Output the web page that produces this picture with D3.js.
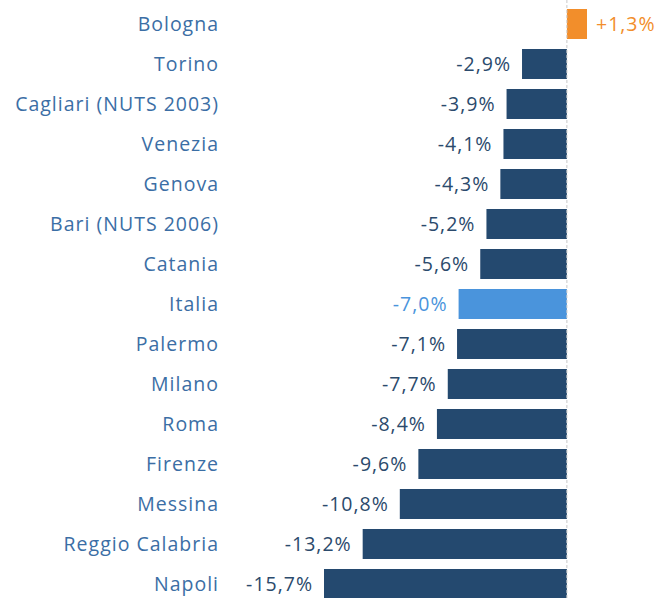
<!DOCTYPE html>
<html>
<head>
<meta charset="utf-8">
<script src="https://cdn.jsdelivr.net/npm/d3@7"></script>
<style>
  body { margin: 0; background: #fff; }
  svg text { font-family: "Open Sans", "Noto Sans", sans-serif; letter-spacing: 1px; }
</style>
</head>
<body>
<svg id="chart" width="659" height="598"></svg>
<script>
'use strict';

// data
const cities = ['Bologna', 'Torino', 'Cagliari (NUTS 2003)', 'Venezia', 'Genova', 'Bari (NUTS 2006)',
    'Catania', 'Italia', 'Palermo', 'Milano', 'Roma', 'Firenze', 'Messina', 'Reggio Calabria', 'Napoli'];
const changes = [1.3, -2.9, -3.9, -4.1, -4.3, -5.2, -5.6, -7.0, -7.1, -7.7, -8.4, -9.6, -10.8, -13.2, -15.7];

const rows = cities.map((c, i) => ({ city: c, value: changes[i] }));

const svg = d3.select('#chart');

// scales
const x = d3.scaleLinear().domain([-15.7, 1.3]).range([324, 587]);
const y = d3.scaleBand().domain(cities).range([4, 604]).paddingInner(0.25).paddingOuter(0.125);

function barColor(d) {
    if (d.value > 0) return '#f28e2b';
    if (d.city === 'Italia') return '#4a94dc';
    return '#24496f';
}
function labelColor(d) {
    if (d.value > 0) return '#f28e2b';
    if (d.city === 'Italia') return '#4a94dc';
    return '#2b4a6c';
}
const fmt = v => (v > 0 ? '+' : '') + v.toFixed(1).replace('.', ',') + '%';

// bars
svg.selectAll('rect.bar')
    .data(rows)
    .enter()
    .append('rect')
    .attr('class', 'bar')
    .attr('x', d => x(Math.min(0, d.value)))
    .attr('width', d => Math.abs(x(d.value) - x(0)))
    .attr('y', d => y(d.city))
    .attr('height', y.bandwidth())
    .attr('fill', barColor);

// zero line
svg.append('line')
    .attr('x1', x(0)).attr('x2', x(0))
    .attr('y1', 0).attr('y2', 598)
    .attr('stroke', '#c8c8c8')
    .attr('stroke-width', 1)
    .attr('stroke-dasharray', '3,2');

// category labels
svg.selectAll('text.cat')
    .data(rows)
    .enter()
    .append('text')
    .attr('class', 'cat')
    .attr('x', 219)
    .attr('y', d => y(d.city) + y.bandwidth() / 2)
    .attr('dy', '0.35em')
    .attr('text-anchor', 'end')
    .attr('font-size', 19.5)
    .attr('fill', '#3b6ea5')
    .text(d => d.city);

// value labels
svg.selectAll('text.val')
    .data(rows)
    .enter()
    .append('text')
    .attr('class', 'val')
    .attr('x', d => d.value > 0 ? x(d.value) + 9 : x(d.value) - 11)
    .attr('y', d => y(d.city) + y.bandwidth() / 2)
    .attr('dy', '0.35em')
    .attr('text-anchor', d => d.value > 0 ? 'start' : 'end')
    .attr('font-size', 19.5)
    .attr('fill', labelColor)
    .text(d => fmt(d.value));
</script>
</body>
</html>
